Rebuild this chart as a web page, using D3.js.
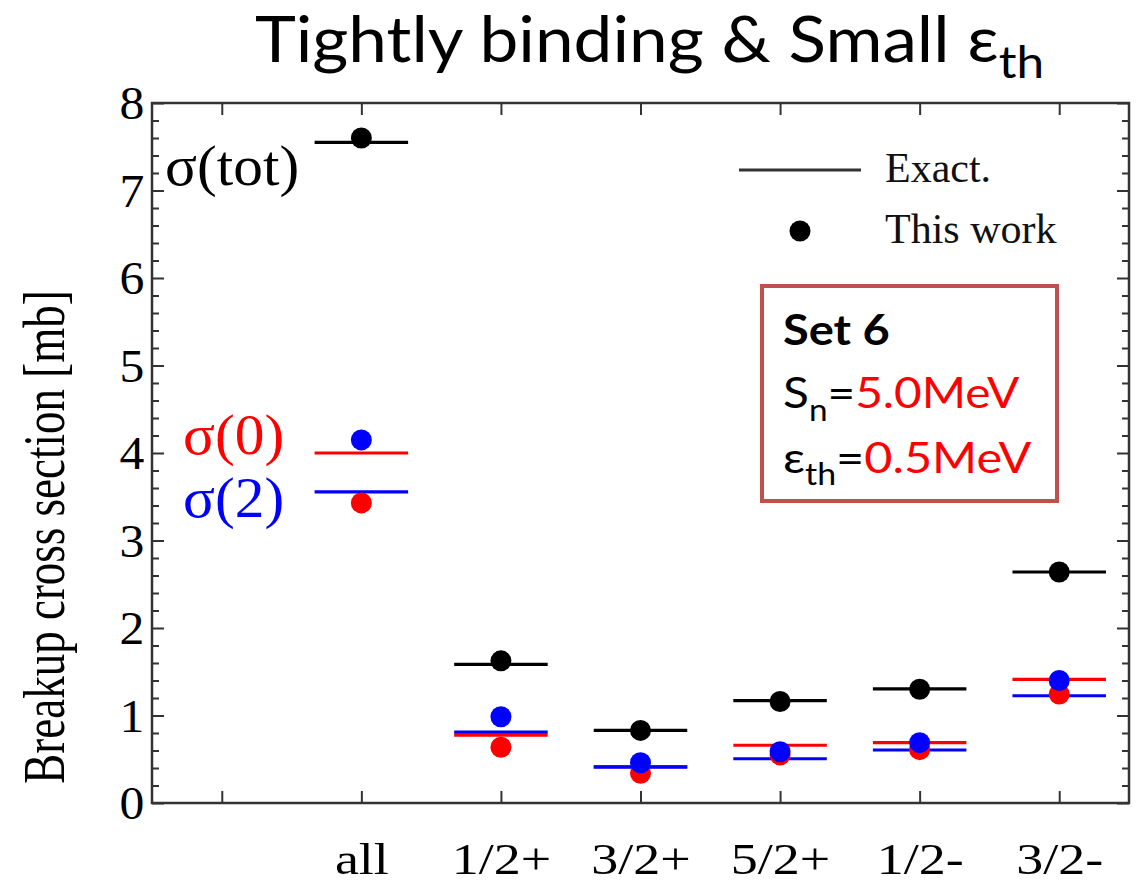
<!DOCTYPE html>
<html>
<head>
<meta charset="utf-8">
<script src="https://cdn.jsdelivr.net/npm/d3@7"></script>
<style>
  html, body { margin: 0; padding: 0; background: #fff; }
  svg { display: block; }
</style>
</head>
<body>
<svg id="chart" width="1141" height="884"></svg>
<script>
// ---------- data ----------
const slots = ["", "all", "1/2+", "3/2+", "5/2+", "1/2-", "3/2-"];   // x tick slots (1..7)
const categories = ["all", "1/2+", "3/2+", "5/2+", "1/2-", "3/2-"];
// Exact (lines)
const exactTot = [7.55, 1.585, 0.83, 1.17, 1.305, 2.64];
const exact0   = [4.00, 0.775, 0.415, 0.66, 0.69, 1.414];
const exact2   = [3.555, 0.81, 0.41, 0.506, 0.606, 1.226];
// This work (dots)
const workTot  = [7.60, 1.625, 0.83, 1.16, 1.30, 2.64];
const work0    = [3.43, 0.637, 0.34, 0.55, 0.61, 1.245];
const work2    = [4.15, 0.986, 0.46, 0.586, 0.69, 1.40];
const yTicks = [0, 1, 2, 3, 4, 5, 6, 7, 8];
const titleText = "Tightly binding & Small ε";

// ---------- layout ----------
const svg = d3.select("#chart");
const L = 152, R = 1129, T = 103, B = 803;
const x = d3.scaleLinear().domain([0.5, 7.5]).range([L, R]);
const y = d3.scaleLinear().domain([0, 8]).range([B, T]);
const pos = c => slots.indexOf(c) + 1;
const serif = "'Liberation Serif', 'Times New Roman', serif";
const sans = "Lato, 'Open Sans', sans-serif";

// title
const title = svg.append("text").attr("transform", "translate(255,62) scale(1.1,1)")
  .attr("font-family", sans).attr("font-size", 63).attr("fill", "#000");
title.append("tspan").text(titleText);
title.append("tspan").attr("font-size", 45).attr("dy", 16).text("th");

// minor ticks
const minorVals = d3.range(0, 8.001, 0.2).filter(v => Math.abs(v - Math.round(v)) > 1e-6);
function styleAxis(g) {
  g.select(".domain").remove();
  g.selectAll("line").attr("stroke", "#333").attr("stroke-width", 2);
}
svg.append("g").attr("transform", `translate(${L},0)`)
  .call(d3.axisLeft(y).tickValues(minorVals).tickSize(-7).tickFormat(""))
  .call(styleAxis);
svg.append("g").attr("transform", `translate(${R},0)`)
  .call(d3.axisRight(y).tickValues(minorVals).tickSize(-7).tickFormat(""))
  .call(styleAxis);
// major y ticks
const yAx = svg.append("g").attr("transform", `translate(${L},0)`)
  .call(d3.axisLeft(y).tickValues(yTicks).tickSize(-12).tickPadding(7).tickFormat(d3.format("d")))
  .call(styleAxis);
yAx.selectAll("text").attr("font-family", serif).attr("font-size", 46).attr("fill", "#000")
  .attr("dy", "0.34em").attr("transform", "scale(1.08,1)");
svg.append("g").attr("transform", `translate(${R},0)`)
  .call(d3.axisRight(y).tickValues(yTicks).tickSize(-12).tickFormat(""))
  .call(styleAxis);
// x ticks
const xTickVals = d3.range(1, slots.length + 1);
const xAx = svg.append("g").attr("transform", `translate(0,${B})`)
  .call(d3.axisBottom(x).tickValues(xTickVals).tickSize(-12).tickPadding(39)
    .tickFormat(d => slots[d - 1]))
  .call(styleAxis);
xAx.selectAll("text").attr("font-family", serif).attr("font-size", 45).attr("fill", "#000")
  .attr("transform", "scale(1.2,1)");
svg.append("g").attr("transform", `translate(0,${T})`)
  .call(d3.axisTop(x).tickValues(xTickVals).tickSize(-12).tickFormat(""))
  .call(styleAxis);

// frame
svg.append("rect").attr("x", L).attr("y", T).attr("width", R - L).attr("height", B - T)
  .attr("fill", "none").attr("stroke", "#333").attr("stroke-width", 2.5);

// y label
svg.append("text")
  .attr("transform", "translate(64,537) scale(1.3,1) rotate(-90)")
  .attr("text-anchor", "middle").attr("font-family", serif).attr("font-size", 45)
  .attr("fill", "#000").text("Breakup cross section [mb]");

// data: lines
const hw = 0.335;
function lines(vals, color) {
  svg.append("g").selectAll("line").data(vals).join("line")
    .attr("x1", (d, i) => x(pos(categories[i]) - hw))
    .attr("x2", (d, i) => x(pos(categories[i]) + hw))
    .attr("y1", d => y(d)).attr("y2", d => y(d))
    .attr("stroke", color).attr("stroke-width", 3.2);
}
function dots(vals, color) {
  svg.append("g").selectAll("circle").data(vals).join("circle")
    .attr("cx", (d, i) => x(pos(categories[i])))
    .attr("cy", d => y(d)).attr("r", 10.5).attr("fill", color);
}
lines(exactTot, "#000");
lines(exact0, "#ff0000");
lines(exact2, "#0000ff");
dots(work0, "#ff0000");
dots(work2, "#0000ff");
dots(workTot, "#000");

// series labels
svg.append("text").attr("transform", "translate(165,185) scale(1.06,1)").attr("font-family", serif)
  .attr("font-size", 56).attr("fill", "#000").text("σ(tot)");
svg.append("text").attr("transform", "translate(183,454) scale(1.06,1)").attr("font-family", serif)
  .attr("font-size", 56).attr("fill", "#ff0000").text("σ(0)");
svg.append("text").attr("transform", "translate(183,517) scale(1.06,1)").attr("font-family", serif)
  .attr("font-size", 56).attr("fill", "#0000ff").text("σ(2)");

// legend
svg.append("line").attr("x1", 739).attr("x2", 861).attr("y1", 170).attr("y2", 170)
  .attr("stroke", "#333").attr("stroke-width", 3);
svg.append("text").attr("x", 885).attr("y", 182).attr("font-family", serif)
  .attr("font-size", 42).attr("fill", "#111").text("Exact.");
svg.append("circle").attr("cx", 800).attr("cy", 231).attr("r", 10.5).attr("fill", "#000");
svg.append("text").attr("x", 885).attr("y", 243).attr("font-family", serif)
  .attr("font-size", 42).attr("fill", "#111").text("This work");

// info box
svg.append("rect").attr("x", 762).attr("y", 286).attr("width", 295).attr("height", 215)
  .attr("fill", "none").attr("stroke", "#c0504d").attr("stroke-width", 4);
svg.append("text").attr("transform", "translate(783,345) scale(1.12,1)").attr("font-family", sans)
  .attr("font-weight", "bold").attr("font-size", 42).attr("fill", "#000").text("Set 6");
const t1 = svg.append("text").attr("transform", "translate(783,408) scale(1.11,1)").attr("font-family", sans)
  .attr("font-size", 43).attr("fill", "#000");
t1.append("tspan").text("S");
t1.append("tspan").attr("font-size", 30).attr("dy", 13).text("n");
t1.append("tspan").attr("dy", -13).text("=");
t1.append("tspan").attr("fill", "#ff0000").text("5.0MeV");
const t2 = svg.append("text").attr("transform", "translate(783,473) scale(1.13,1)").attr("font-family", sans)
  .attr("font-size", 43).attr("fill", "#000");
t2.append("tspan").text("ε");
t2.append("tspan").attr("font-size", 30).attr("dy", 12).text("th");
t2.append("tspan").attr("dy", -12).text("=");
t2.append("tspan").attr("fill", "#ff0000").text("0.5MeV");
</script>
</body>
</html>
